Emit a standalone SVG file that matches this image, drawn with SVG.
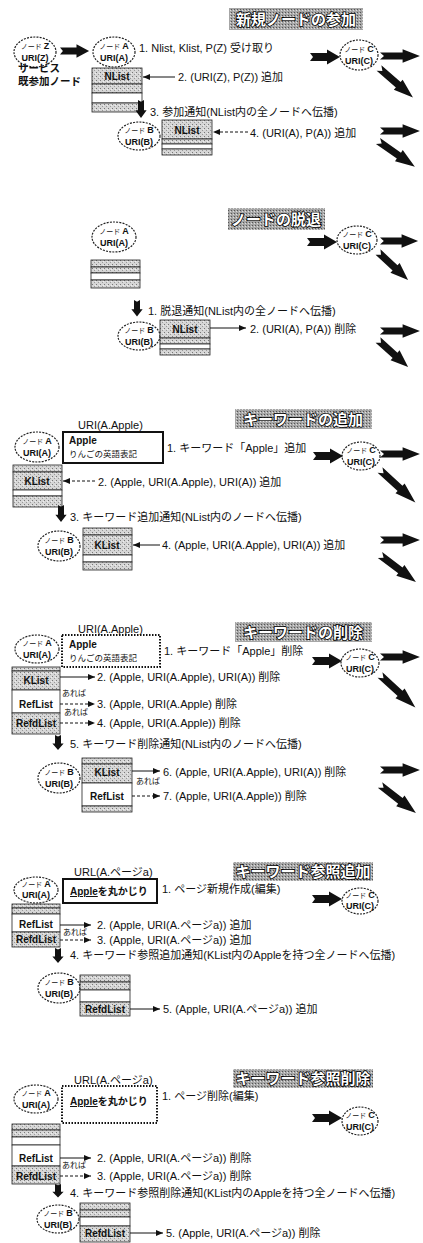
<svg xmlns="http://www.w3.org/2000/svg" width="423" height="1243" viewBox="0 0 423 1243">
<style>
.t{font-family:"Liberation Sans","Noto Sans CJK JP",sans-serif;font-size:11px;fill:#111}
.b{font-weight:bold}
.n1{font-size:7px;font-weight:normal}
.n2{font-size:9px;font-weight:bold}
.sm{font-size:8.5px}
.xs{font-size:8px}
.lb{font-size:10px;font-weight:bold;text-anchor:middle}
.mid{text-anchor:middle}
.nd ellipse{fill:#fff;stroke:#222;stroke-width:1.2;stroke-dasharray:2 1.2}
.ttl{font-family:"Noto Sans CJK JP",sans-serif;font-size:15px;font-weight:bold;fill:#fff;stroke:#000;stroke-width:1.6;paint-order:stroke;text-anchor:middle}
.tbox{fill:url(#tst)}
.st{fill:url(#stip);stroke:#222;stroke-width:0.8}
.wh{fill:#fff;stroke:#222;stroke-width:0.8}
.ln{stroke:#111;stroke-width:1;fill:none;marker-end:url(#ah)}
.da{stroke-dasharray:3 2}
.fat{fill:#111}
.pg{fill:#fff;stroke:#111;stroke-width:2}
.pgd{fill:#fff;stroke:#111;stroke-width:2;stroke-dasharray:1.5 1.5}
</style>
<defs>
<pattern id="stip" width="4" height="4" patternUnits="userSpaceOnUse"><rect width="4" height="4" fill="#d6d6d6"/><rect x="0" y="0" width="1" height="1" fill="#777"/><rect x="2" y="2" width="1" height="1" fill="#999"/><rect x="3" y="1" width="1" height="1" fill="#eee"/></pattern>
<pattern id="tst" width="3" height="3" patternUnits="userSpaceOnUse"><rect width="3" height="3" fill="#a6a6a6"/><rect x="0" y="0" width="1" height="1" fill="#555"/><rect x="2" y="1" width="1" height="1" fill="#ddd"/></pattern>
<marker id="ah" markerUnits="userSpaceOnUse" markerWidth="7" markerHeight="6" refX="7" refY="3" orient="auto"><path d="M0,0 L7,3 L0,6 z" fill="#111"/></marker>
<path id="fa" d="M0,-4 L17,-4 L17,-7.5 L30,0 L17,7.5 L17,4 L0,4 L3,0 Z"/>
</defs>

<!-- titles -->
<g id="titles">
<rect class="tbox" x="229" y="8" width="134" height="22"/><text class="ttl" x="296" y="25">新規ノードの参加</text>
<rect class="tbox" x="228" y="208" width="97" height="22"/><text class="ttl" x="276" y="225">ノードの脱退</text>
<rect class="tbox" x="235" y="409" width="137" height="20"/><text class="ttl" x="303" y="425">キーワードの追加</text>
<rect class="tbox" x="235" y="622" width="137" height="20"/><text class="ttl" x="303" y="638">キーワードの削除</text>
<rect class="tbox" x="233" y="862" width="140" height="19"/><text class="ttl" x="303" y="877">キーワード参照追加</text>
<rect class="tbox" x="233" y="1069" width="140" height="19"/><text class="ttl" x="303" y="1084">キーワード参照削除</text>
</g>

<!-- ===== Section 1 ===== -->
<g id="s1-nodeZ" class="nd"><ellipse cx="35" cy="52" rx="21" ry="15"/><text class="t mid" x="35" y="49"><tspan class="n1">ノード </tspan><tspan class="n2">Z</tspan></text><text class="t n2 mid" x="35" y="61">URI(Z)</text></g>
<text class="t b" x="18" y="72" style="font-size:10.5px">サービス</text>
<text class="t b" x="18" y="85" style="font-size:10.5px">既参加ノード</text>
<g id="s1-nodeA" class="nd"><ellipse cx="114" cy="52" rx="21" ry="15"/><text class="t mid" x="114" y="49"><tspan class="n1">ノード </tspan><tspan class="n2">A</tspan></text><text class="t n2 mid" x="114" y="61">URI(A)</text></g>
<g id="s1-listA"><rect class="st" x="92" y="68" width="50" height="16"/><rect class="st" x="92" y="84" width="50" height="9"/><rect class="wh" x="92" y="93" width="50" height="10"/><rect class="st" x="92" y="103" width="50" height="9"/><text class="t lb" x="117" y="80">NList</text></g>
<g id="s1-nodeC" class="nd"><ellipse cx="359" cy="55" rx="19" ry="15"/><text class="t mid" x="359" y="52"><tspan class="n1">ノード </tspan><tspan class="n2">C</tspan></text><text class="t n2 mid" x="359" y="64">URI(C)</text></g>
<g id="s1-nodeB" class="nd"><ellipse cx="139" cy="136" rx="21" ry="14"/><text class="t mid" x="139" y="133"><tspan class="n1">ノード </tspan><tspan class="n2">B</tspan></text><text class="t n2 mid" x="139" y="145">URI(B)</text></g>
<g id="s1-listB"><rect class="st" x="162" y="120" width="50" height="19"/><rect class="st" x="162" y="139" width="50" height="5"/><rect class="wh" x="162" y="144" width="50" height="5"/><rect class="st" x="162" y="149" width="50" height="6"/><text class="t lb" x="187" y="134">NList</text></g>
<text class="t" x="139" y="52">1. Nlist, Klist, P(Z) 受け取り</text>
<text class="t" x="178" y="81">2. (URI(Z), P(Z)) 追加</text>
<text class="t" x="150" y="116">3. 参加通知(NList内の全ノードへ伝播)</text>
<text class="t" x="250" y="137">4. (URI(A), P(A)) 追加</text>

<!-- ===== Section 2 ===== -->
<g id="s2-nodeA" class="nd"><ellipse cx="114" cy="237" rx="22" ry="15"/><text class="t mid" x="114" y="234"><tspan class="n1">ノード </tspan><tspan class="n2">A</tspan></text><text class="t n2 mid" x="114" y="246">URI(A)</text></g>
<g id="s2-listA"><rect class="st" x="91" y="260" width="49" height="7"/><rect class="st" x="91" y="267" width="49" height="6"/><rect class="wh" x="91" y="273" width="49" height="7"/><rect class="st" x="91" y="280" width="49" height="8"/></g>
<g id="s2-nodeC" class="nd"><ellipse cx="357" cy="240" rx="20" ry="14"/><text class="t mid" x="357" y="237"><tspan class="n1">ノード </tspan><tspan class="n2">C</tspan></text><text class="t n2 mid" x="357" y="249">URI(C)</text></g>
<g id="s2-nodeB" class="nd"><ellipse cx="139" cy="336" rx="21" ry="14"/><text class="t mid" x="139" y="333"><tspan class="n1">ノード </tspan><tspan class="n2">B</tspan></text><text class="t n2 mid" x="139" y="345">URI(B)</text></g>
<g id="s2-listB"><rect class="st" x="160" y="320" width="50" height="18"/><rect class="st" x="160" y="338" width="50" height="6"/><rect class="wh" x="160" y="344" width="50" height="5"/><rect class="st" x="160" y="349" width="50" height="6"/><text class="t lb" x="185" y="333">NList</text></g>
<text class="t" x="148" y="315">1. 脱退通知(NList内の全ノードへ伝播)</text>
<text class="t" x="250" y="333">2. (URI(A), P(A)) 削除</text>

<!-- ===== Section 3 ===== -->
<text class="t" x="78" y="429">URI(A.Apple)</text>
<g id="s3-nodeA" class="nd"><ellipse cx="37" cy="447" rx="22" ry="15"/><text class="t mid" x="37" y="444"><tspan class="n1">ノード </tspan><tspan class="n2">A</tspan></text><text class="t n2 mid" x="37" y="456">URI(A)</text></g>
<g id="s3-page"><rect class="pg" x="63" y="432" width="100" height="31"/><text class="t b" x="69" y="444" style="font-size:10px">Apple</text><text class="t sm" x="69" y="457">りんごの英語表記</text></g>
<g id="s3-listA"><rect class="st" x="13" y="465" width="49" height="7"/><rect class="st" x="13" y="472" width="49" height="18"/><rect class="wh" x="13" y="490" width="49" height="6"/><rect class="st" x="13" y="496" width="49" height="11"/><text class="t lb" x="37" y="485">KList</text></g>
<g id="s3-nodeC" class="nd"><ellipse cx="361" cy="456" rx="19" ry="14"/><text class="t mid" x="361" y="453"><tspan class="n1">ノード </tspan><tspan class="n2">C</tspan></text><text class="t n2 mid" x="361" y="465">URI(C)</text></g>
<g id="s3-nodeB" class="nd"><ellipse cx="59" cy="546" rx="21" ry="15"/><text class="t mid" x="59" y="543"><tspan class="n1">ノード </tspan><tspan class="n2">B</tspan></text><text class="t n2 mid" x="59" y="555">URI(B)</text></g>
<g id="s3-listB"><rect class="st" x="83" y="528" width="49" height="7"/><rect class="st" x="83" y="535" width="49" height="20"/><rect class="wh" x="83" y="555" width="49" height="7"/><rect class="st" x="83" y="562" width="49" height="8"/><text class="t lb" x="107" y="549">KList</text></g>
<text class="t" x="167" y="452">1. キーワード「Apple」追加</text>
<text class="t" x="98" y="486">2. (Apple, URI(A.Apple), URI(A)) 追加</text>
<text class="t" x="70" y="521">3. キーワード追加通知(NList内のノードへ伝播)</text>
<text class="t" x="162" y="549">4. (Apple, URI(A.Apple), URI(A)) 追加</text>

<!-- ===== Section 4 ===== -->
<text class="t" x="78" y="633">URI(A.Apple)</text>
<g id="s4-nodeA" class="nd"><ellipse cx="37" cy="649" rx="22" ry="14"/><text class="t mid" x="37" y="646"><tspan class="n1">ノード </tspan><tspan class="n2">A</tspan></text><text class="t n2 mid" x="37" y="658">URI(A)</text></g>
<g id="s4-page"><rect class="pgd" x="62" y="635" width="98" height="32"/><text class="t b" x="69" y="648" style="font-size:10px">Apple</text><text class="t sm" x="69" y="661">りんごの英語表記</text></g>
<g id="s4-listA"><rect class="st" x="12" y="667" width="48" height="4"/><rect class="st" x="12" y="671" width="48" height="19"/><rect class="wh" x="12" y="690" width="48" height="23"/><rect class="st" x="12" y="713" width="48" height="21"/><text class="t lb" x="36" y="684">KList</text><text class="t lb" x="36" y="708">RefList</text><text class="t lb" x="36" y="727">RefdList</text></g>
<g id="s4-nodeC" class="nd"><ellipse cx="360" cy="663" rx="19" ry="14"/><text class="t mid" x="360" y="660"><tspan class="n1">ノード </tspan><tspan class="n2">C</tspan></text><text class="t n2 mid" x="360" y="672">URI(C)</text></g>
<g id="s4-nodeB" class="nd"><ellipse cx="59" cy="778" rx="21" ry="15"/><text class="t mid" x="59" y="775"><tspan class="n1">ノード </tspan><tspan class="n2">B</tspan></text><text class="t n2 mid" x="59" y="787">URI(B)</text></g>
<g id="s4-listB"><rect class="st" x="82" y="758" width="50" height="6"/><rect class="st" x="82" y="764" width="50" height="19"/><rect class="wh" x="82" y="783" width="50" height="23"/><rect class="st" x="82" y="806" width="50" height="6"/><text class="t lb" x="107" y="776">KList</text><text class="t lb" x="107" y="800">RefList</text></g>
<text class="t" x="164" y="655">1. キーワード「Apple」削除</text>
<text class="t" x="97" y="681">2. (Apple, URI(A.Apple), URI(A)) 削除</text>
<text class="t xs" x="62" y="696">あれば</text>
<text class="t" x="97" y="708">3. (Apple, URI(A.Apple) 削除</text>
<text class="t xs" x="64" y="715">あれば</text>
<text class="t" x="97" y="727">4. (Apple, URI(A.Apple)) 削除</text>
<text class="t" x="70" y="748">5. キーワード削除通知(NList内のノードへ伝播)</text>
<text class="t" x="163" y="776">6. (Apple, URI(A.Apple), URI(A)) 削除</text>
<text class="t xs" x="136" y="784">あれば</text>
<text class="t" x="163" y="800">7. (Apple, URI(A.Apple)) 削除</text>

<!-- ===== Section 5 ===== -->
<text class="t" x="74" y="876">URL(A.ページa)</text>
<g id="s5-nodeA" class="nd"><ellipse cx="36" cy="890" rx="22" ry="13"/><text class="t mid" x="36" y="887"><tspan class="n1">ノード </tspan><tspan class="n2">A</tspan></text><text class="t n2 mid" x="36" y="898">URI(A)</text></g>
<g id="s5-page"><rect class="pg" x="63" y="879" width="94" height="24"/><text class="t b" x="70" y="895" style="font-size:10px"><tspan text-decoration="underline">Apple</tspan>を丸かじり</text></g>
<g id="s5-listA"><rect class="st" x="12" y="904" width="48" height="4"/><rect class="st" x="12" y="908" width="48" height="6"/><rect class="wh" x="12" y="914" width="48" height="18"/><rect class="st" x="12" y="932" width="48" height="15"/><text class="t lb" x="36" y="928">RefList</text><text class="t lb" x="36" y="943">RefdList</text></g>
<g id="s5-nodeC" class="nd"><ellipse cx="360" cy="901" rx="18" ry="13"/><text class="t mid" x="360" y="898"><tspan class="n1">ノード </tspan><tspan class="n2">C</tspan></text><text class="t n2 mid" x="360" y="909">URI(C)</text></g>
<g id="s5-nodeB" class="nd"><ellipse cx="59" cy="988" rx="21" ry="15"/><text class="t mid" x="59" y="985"><tspan class="n1">ノード </tspan><tspan class="n2">B</tspan></text><text class="t n2 mid" x="59" y="997">URI(B)</text></g>
<g id="s5-listB"><rect class="st" x="80" y="975" width="50" height="7"/><rect class="st" x="80" y="982" width="50" height="8"/><rect class="wh" x="80" y="990" width="50" height="12"/><rect class="st" x="80" y="1002" width="50" height="14"/><text class="t lb" x="105" y="1013">RefdList</text></g>
<text class="t" x="162" y="893">1. ページ新規作成(編集)</text>
<text class="t" x="97" y="929">2. (Apple, URI(A.ページa)) 追加</text>
<text class="t xs" x="63" y="935">あれば</text>
<text class="t" x="97" y="944">3. (Apple, URI(A.ページa)) 追加</text>
<text class="t" x="70" y="959">4. キーワード参照追加通知(KList内のAppleを持つ全ノードへ伝播)</text>
<text class="t" x="163" y="1013">5. (Apple, URI(A.ページa)) 追加</text>

<!-- ===== Section 6 ===== -->
<text class="t" x="74" y="1084">URL(A.ページa)</text>
<g id="s6-nodeA" class="nd"><ellipse cx="36" cy="1099" rx="22" ry="14"/><text class="t mid" x="36" y="1096"><tspan class="n1">ノード </tspan><tspan class="n2">A</tspan></text><text class="t n2 mid" x="36" y="1108">URI(A)</text></g>
<g id="s6-page"><rect class="pgd" x="62" y="1086" width="95" height="37"/><text class="t b" x="70" y="1105" style="font-size:10px"><tspan text-decoration="underline">Apple</tspan>を丸かじり</text></g>
<g id="s6-listA"><rect class="st" x="12" y="1124" width="48" height="6"/><rect class="st" x="12" y="1130" width="48" height="7"/><rect class="wh" x="12" y="1137" width="48" height="8"/><rect class="wh" x="12" y="1145" width="48" height="21"/><rect class="st" x="12" y="1166" width="48" height="18"/><text class="t lb" x="36" y="1162">RefList</text><text class="t lb" x="36" y="1180">RefdList</text></g>
<g id="s6-nodeC" class="nd"><ellipse cx="360" cy="1121" rx="18" ry="14"/><text class="t mid" x="360" y="1118"><tspan class="n1">ノード </tspan><tspan class="n2">C</tspan></text><text class="t n2 mid" x="360" y="1130">URI(C)</text></g>
<g id="s6-nodeB" class="nd"><ellipse cx="58" cy="1219" rx="21" ry="14"/><text class="t mid" x="58" y="1216"><tspan class="n1">ノード </tspan><tspan class="n2">B</tspan></text><text class="t n2 mid" x="58" y="1228">URI(B)</text></g>
<g id="s6-listB"><rect class="st" x="80" y="1203" width="50" height="7"/><rect class="st" x="80" y="1210" width="50" height="7"/><rect class="wh" x="80" y="1217" width="50" height="9"/><rect class="st" x="80" y="1226" width="50" height="16"/><text class="t lb" x="105" y="1237">RefdList</text></g>
<text class="t" x="162" y="1100">1. ページ削除(編集)</text>
<text class="t" x="97" y="1162">2. (Apple, URI(A.ページa)) 削除</text>
<text class="t xs" x="62" y="1168">あれば</text>
<text class="t" x="97" y="1180">3. (Apple, URI(A.ページa)) 削除</text>
<text class="t" x="70" y="1197">4. キーワード参照削除通知(KList内のAppleを持つ全ノードへ伝播)</text>
<text class="t" x="166" y="1237">5. (Apple, URI(A.ページa)) 削除</text>

<!-- ===== connectors ===== -->
<g id="connectors">
<g class="fat">
<use href="#fa" transform="translate(60,51) scale(0.97,0.9)"/>
<use href="#fa" transform="translate(310,57)"/>
<use href="#fa" transform="translate(380,56) scale(1.33,0.9)"/>
<use href="#fa" transform="translate(379,68) rotate(41) scale(1.5,0.9)"/>
<use href="#fa" transform="translate(141,100) rotate(90) scale(0.6,0.75)"/>
<use href="#fa" transform="translate(380,131) scale(1.33,0.9)"/>
<use href="#fa" transform="translate(378,141) rotate(35) scale(1.5,0.9)"/>

<use href="#fa" transform="translate(307,242)"/>
<use href="#fa" transform="translate(380,241) scale(1.27,0.9)"/>
<use href="#fa" transform="translate(378,252) rotate(43) scale(1.37,0.9)"/>
<use href="#fa" transform="translate(137,300) rotate(90) scale(0.55,0.75)"/>
<use href="#fa" transform="translate(380,331) scale(1.33,0.9)"/>
<use href="#fa" transform="translate(378,340) rotate(42) scale(1.35,0.9)"/>

<use href="#fa" transform="translate(313,456)"/>
<use href="#fa" transform="translate(380,454) scale(1.33,0.9)"/>
<use href="#fa" transform="translate(380,470) rotate(42.5) scale(1.6,0.9)"/>
<use href="#fa" transform="translate(61,505) rotate(90) scale(0.57,0.75)"/>
<use href="#fa" transform="translate(380,540) scale(1.33,0.9)"/>
<use href="#fa" transform="translate(380,555) rotate(37) scale(1.5,0.9)"/>

<use href="#fa" transform="translate(312,661)"/>
<use href="#fa" transform="translate(380,657) scale(1.33,0.9)"/>
<use href="#fa" transform="translate(380,675) rotate(42.5) scale(1.6,0.9)"/>
<use href="#fa" transform="translate(58,735) rotate(90) scale(0.5,0.75)"/>
<use href="#fa" transform="translate(380,770) scale(1.33,0.9)"/>
<use href="#fa" transform="translate(380,785) rotate(38) scale(1.52,0.9)"/>

<use href="#fa" transform="translate(312,899)"/>
<use href="#fa" transform="translate(58,948) rotate(90) scale(0.5,0.75)"/>

<use href="#fa" transform="translate(312,1118)"/>
<use href="#fa" transform="translate(58,1184) rotate(90) scale(0.45,0.75)"/>
</g>
<line class="ln" x1="175" y1="77" x2="143" y2="77"/>
<line class="ln da" x1="248" y1="132" x2="213" y2="132"/>
<line class="ln" x1="210" y1="328" x2="246" y2="328"/>
<line class="ln da" x1="95" y1="481" x2="63" y2="481"/>
<line class="ln" x1="160" y1="545" x2="133" y2="545"/>
<line class="ln" x1="60" y1="677" x2="95" y2="677"/>
<line class="ln da" x1="60" y1="704" x2="95" y2="704"/>
<line class="ln da" x1="60" y1="723" x2="95" y2="723"/>
<line class="ln" x1="132" y1="771" x2="160" y2="771"/>
<line class="ln da" x1="132" y1="796" x2="160" y2="796"/>
<line class="ln" x1="60" y1="925" x2="91" y2="925"/>
<line class="ln da" x1="60" y1="940" x2="91" y2="940"/>
<line class="ln" x1="130" y1="1009" x2="160" y2="1009"/>
<line class="ln" x1="60" y1="1158" x2="91" y2="1158"/>
<line class="ln da" x1="60" y1="1176" x2="91" y2="1176"/>
<line class="ln" x1="130" y1="1233" x2="163" y2="1233"/>
</g>
</svg>
